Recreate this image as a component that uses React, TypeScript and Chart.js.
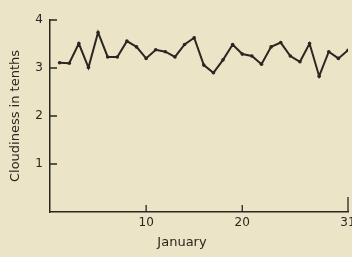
import React, { useEffect, useRef } from "react";
import { Chart, registerables } from "chart.js";

Chart.register(...registerables);

const days: number[] = Array.from({ length: 31 }, (_, i) => i + 1);
const cloudiness: number[] = [
  3.11, 3.1, 3.51, 3.01, 3.74, 3.23, 3.23, 3.56, 3.44, 3.2,
  3.38, 3.34, 3.23, 3.49, 3.63, 3.06, 2.9, 3.17, 3.49, 3.29,
  3.25, 3.08, 3.44, 3.53, 3.25, 3.13, 3.51, 2.83, 3.34, 3.2, 3.37,
];
const yTicks: number[] = [1, 2, 3, 4];
const xTicks: number[] = [10, 20, 31];
const yTitle = "Cloudiness in tenths";
const xTitle = "January";

const INK = "#2b2621";
const BG = "#ebe4c6";
const FONT = "'DejaVu Sans', sans-serif";

const inwardTicks = {
  id: "inwardTicks",
  afterDraw(chart: any) {
    const ctx = chart.ctx;
    const xs = chart.scales.x;
    const ys = chart.scales.y;
    const ca = chart.chartArea;
    ctx.save();
    ctx.strokeStyle = INK;
    ctx.lineWidth = 1.3;
    ctx.beginPath();
    yTicks.forEach((v) => {
      const y = ys.getPixelForValue(v);
      ctx.moveTo(ca.left, y);
      ctx.lineTo(ca.left + 7, y);
    });
    xTicks.forEach((v, i) => {
      const x = xs.getPixelForValue(v);
      ctx.moveTo(x, ca.bottom);
      ctx.lineTo(x, ca.bottom - (i === xTicks.length - 1 ? 15 : 7));
    });
    ctx.stroke();
    ctx.fillStyle = INK;
    ctx.font = `13px ${FONT}`;
    ctx.textAlign = "center";
    ctx.textBaseline = "middle";
    ctx.fillText(xTitle, 182, 243);
    ctx.restore();
  },
};

export default function App() {
  const ref = useRef<HTMLCanvasElement | null>(null);
  useEffect(() => {
    if (!ref.current) return;
    const chart = new Chart(ref.current, {
      type: "line",
      data: {
        labels: days,
        datasets: [
          {
            data: days.map((d, i) => ({ x: d, y: cloudiness[i] })),
            borderColor: INK,
            backgroundColor: INK,
            borderWidth: 2,
            pointRadius: 1.8,
            pointHoverRadius: 1.8,
            pointBorderWidth: 0,
            tension: 0,
          },
        ],
      },
      options: {
        animation: false,
        responsive: false,
        maintainAspectRatio: false,
        events: [],
        layout: { padding: { left: 8, right: 4, top: 20, bottom: 0 } },
        plugins: { legend: { display: false }, tooltip: { enabled: false } },
        scales: {
          x: {
            type: "linear",
            min: 0,
            max: 31,
            grid: { display: false, drawTicks: false },
            border: { display: true, color: INK, width: 1.5 },
            afterBuildTicks: (s: any) => {
              s.ticks = xTicks.map((v) => ({ value: v }));
            },
            afterFit: (s: any) => {
              s.height = 45;
              s.paddingLeft = 0;
              s.paddingRight = 0;
            },
            ticks: {
              color: INK,
              font: { family: FONT, size: 12 },
              padding: 4,
              maxRotation: 0,
              autoSkip: false,
              callback: (v: any) => String(v),
            },
          },
          y: {
            type: "linear",
            min: 0,
            max: 4,
            grid: { display: false, drawTicks: false },
            border: { display: true, color: INK, width: 1.5 },
            afterBuildTicks: (s: any) => {
              s.ticks = yTicks.map((v) => ({ value: v }));
            },
            afterFit: (s: any) => {
              s.width = 42;
              s.paddingTop = 0;
              s.paddingBottom = 0;
            },
            title: {
              display: true,
              text: yTitle,
              color: INK,
              font: { family: FONT, size: 13 },
              padding: { top: 0, bottom: 0 },
            },
            ticks: {
              color: INK,
              font: { family: FONT, size: 12 },
              padding: 7,
              callback: (v: any) => String(v),
            },
          },
        },
      },
      plugins: [inwardTicks],
    });
    return () => chart.destroy();
  }, []);
  return (
    <div style={{ position: "fixed", left: 0, top: 0, width: 352, height: 257, background: BG }}>
      <canvas ref={ref} width={352} height={257} style={{ display: "block" }} />
    </div>
  );
}
